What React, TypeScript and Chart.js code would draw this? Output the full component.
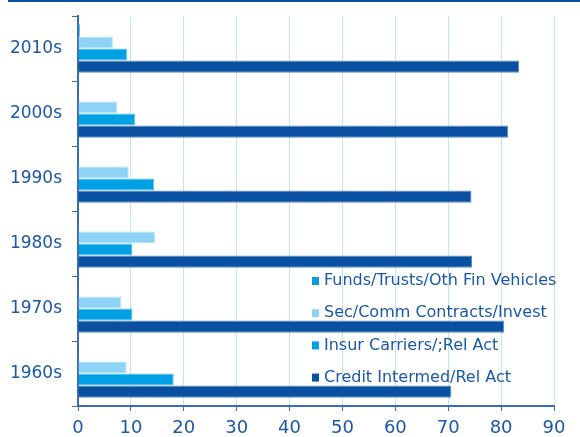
import React, { useEffect, useRef } from "react";
import { Chart, registerables } from "chart.js";

Chart.register(...registerables);

const categories = ["2010s", "2000s", "1990s", "1980s", "1970s", "1960s"];
const seriesLabels = [
  "Funds/Trusts/Oth Fin Vehicles",
  "Sec/Comm Contracts/Invest",
  "Insur Carriers/;Rel Act",
  "Credit Intermed/Rel Act",
];
const fundsValues = [0.4, 0, 0, 0, 0, 0];
const secValues = [6.6, 7.4, 9.6, 14.6, 8.2, 9.2];
const insurValues = [9.3, 10.8, 14.4, 10.3, 10.3, 18.1];
const creditValues = [83.4, 81.3, 74.4, 74.5, 80.6, 70.6];
const xTicks = [0, 10, 20, 30, 40, 50, 60, 70, 80, 90];

const COLORS = ["#0a9bdc", "#8ed3f5", "#00a1e4", "#0a50a1"];
const BORDERS = ["#5cbdea", "#b9e4f9", "#5cc3ee", "#5f8cc4"];
const TEXT = "#1c58a5";
const AXIS = "#3b6db3";

const legendPlugin = {
  id: "innerLegend",
  afterDatasetsDraw(chart: any) {
    const { ctx, chartArea } = chart;
    ctx.save();
    ctx.font = "16px 'DejaVu Sans'";
    ctx.textBaseline = "middle";
    ctx.textAlign = "left";
    const x0 = chartArea.right - 242;
    const y0 = chartArea.top + 265;
    chart.data.datasets.forEach((ds: any, i: number) => {
      const y = y0 + i * 32.2;
      ctx.fillStyle = COLORS[i];
      ctx.fillRect(x0, y - 4, 7, 8);
      ctx.fillStyle = TEXT;
      ctx.fillText(ds.label, x0 + 12, y);
    });
    ctx.restore();
  },
};

export default function App() {
  const ref = useRef<HTMLCanvasElement | null>(null);
  useEffect(() => {
    if (!ref.current) return;
    const values = [fundsValues, secValues, insurValues, creditValues];
    const chart = new Chart(ref.current, {
      type: "bar",
      data: {
        labels: categories,
        datasets: seriesLabels.map((label, i) => ({
          label,
          data: values[i],
          backgroundColor: COLORS[i],
          borderColor: BORDERS[i],
          borderWidth: 1,
          categoryPercentage: 0.745,
          barPercentage: 1,
        })),
      },
      options: {
        indexAxis: "y",
        animation: false,
        responsive: false,
        maintainAspectRatio: false,
        layout: { padding: { top: 16, right: 26, left: 0, bottom: 0 } },
        plugins: { legend: { display: false }, tooltip: { enabled: false } },
        scales: {
          x: {
            min: 0,
            max: 90,
            afterBuildTicks: (scale: any) => {
              scale.ticks = xTicks.map((v) => ({ value: v }));
            },
            afterFit: (scale: any) => {
              scale.height = 31;
            },
            grid: {
              color: "#c0e6f8",
              lineWidth: 1,
              tickColor: AXIS,
              tickLength: 5,
              drawTicks: true,
            },
            border: { display: true, color: AXIS, width: 2 },
            ticks: {
              color: TEXT,
              font: { family: "'DejaVu Sans'", size: 18 },
              padding: 7,
              maxRotation: 0,
            },
          },
          y: {
            afterFit: (scale: any) => {
              scale.width = 78;
              scale.paddingTop = 0;
              scale.paddingBottom = 0;
            },
            grid: {
              drawOnChartArea: false,
              tickColor: AXIS,
              tickLength: 6,
              offset: true,
            },
            border: { display: true, color: AXIS, width: 2 },
            ticks: {
              color: TEXT,
              font: { family: "'DejaVu Sans'", size: 17, lineHeight: 0.6 },
              padding: 10,
            },
          },
        },
      },
      plugins: [legendPlugin],
    });
    return () => chart.destroy();
  }, []);

  return (
    <div style={{ position: "absolute", left: 0, top: 0, width: 580, height: 437, background: "#fff" }}>
      <div style={{ position: "absolute", left: 8, top: 0, width: 572, height: 2, background: "#0a50a1" }} />
      <canvas ref={ref} width={580} height={437} style={{ width: 580, height: 437, display: "block" }} />
    </div>
  );
}
